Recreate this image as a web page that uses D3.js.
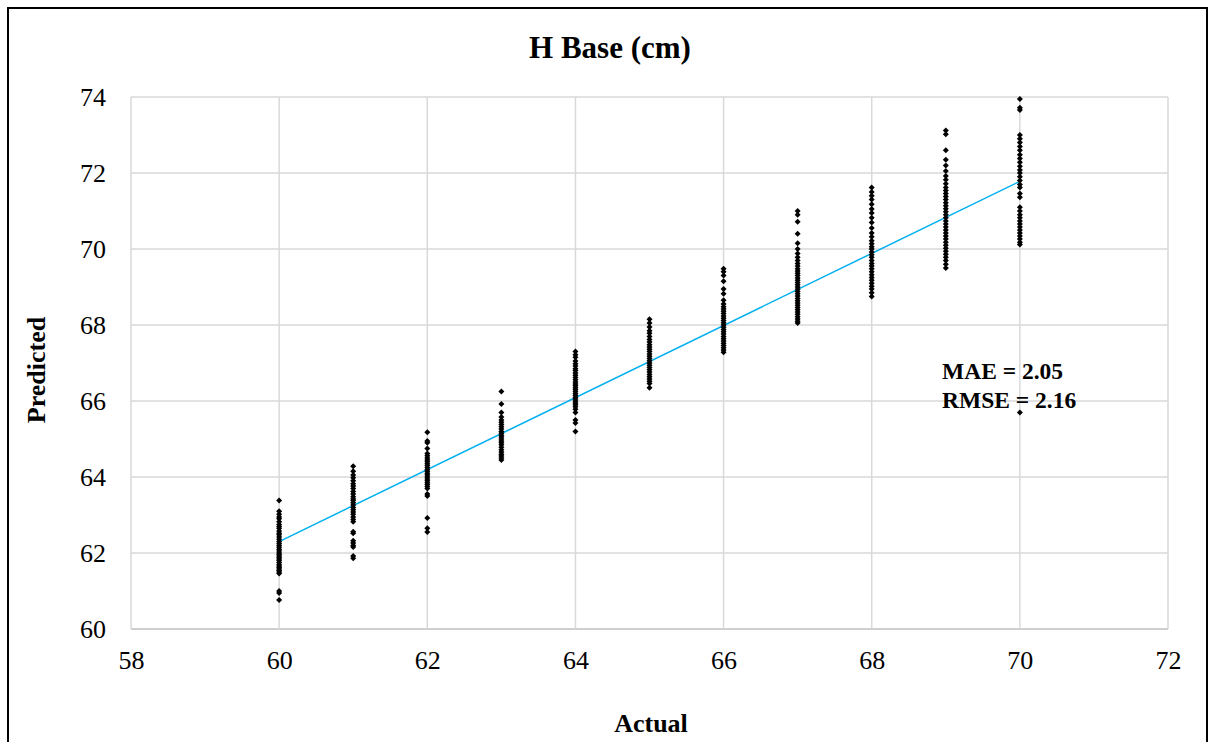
<!DOCTYPE html>
<html>
<head>
<meta charset="utf-8">
<script src="https://cdn.jsdelivr.net/npm/d3@7"></script>
<style>
  html, body { margin: 0; padding: 0; background: #ffffff; }
  svg { display: block; }
  text { font-family: "Liberation Serif", "Times New Roman", serif; fill: #000; }
</style>
</head>
<body>
<svg id="chart" width="1214" height="742"></svg>
<script>
// Actual height values (x) and the predicted values observed at each one
const actualValues = [60, 61, 62, 63, 64, 65, 66, 67, 68, 69, 70];

const predicted60 = [63.38, 63.1, 63.02, 62.95, 62.9, 62.82, 62.75, 62.7, 62.65, 62.58, 62.52, 62.48, 62.42, 62.36, 62.3, 62.25, 62.2, 62.15, 62.1, 62.05, 62.0, 61.96, 61.92, 61.88, 61.84, 61.8, 61.75, 61.7, 61.66, 61.62, 61.58, 61.54, 61.5, 61.46, 61.0, 60.95, 60.76];
const predicted61 = [64.28, 64.15, 64.05, 63.98, 63.9, 63.82, 63.76, 63.7, 63.62, 63.55, 63.48, 63.42, 63.38, 63.32, 63.26, 63.2, 63.14, 63.08, 63.02, 62.95, 62.88, 62.82, 62.56, 62.52, 62.32, 62.26, 62.2, 62.16, 61.92, 61.86];
const predicted62 = [65.18, 64.95, 64.9, 64.75, 64.62, 64.56, 64.5, 64.45, 64.4, 64.35, 64.3, 64.25, 64.2, 64.15, 64.1, 64.05, 64.0, 63.95, 63.9, 63.85, 63.8, 63.75, 63.7, 63.55, 63.5, 62.92, 62.65, 62.55];
const predicted63 = [66.25, 65.92, 65.7, 65.58, 65.5, 65.44, 65.38, 65.32, 65.26, 65.2, 65.15, 65.1, 65.05, 65.0, 64.95, 64.9, 64.85, 64.78, 64.72, 64.66, 64.6, 64.55, 64.5, 64.45];
const predicted64 = [67.3, 67.22, 67.15, 67.05, 66.98, 66.92, 66.85, 66.8, 66.74, 66.68, 66.62, 66.56, 66.5, 66.45, 66.4, 66.35, 66.3, 66.25, 66.2, 66.15, 66.1, 66.05, 66.0, 65.95, 65.9, 65.85, 65.78, 65.7, 65.5, 65.42, 65.2];
const predicted65 = [68.15, 68.05, 67.95, 67.85, 67.78, 67.7, 67.62, 67.55, 67.48, 67.42, 67.36, 67.3, 67.24, 67.18, 67.12, 67.06, 67.0, 66.94, 66.88, 66.82, 66.76, 66.7, 66.64, 66.58, 66.52, 66.46, 66.35];
const predicted66 = [69.48, 69.4, 69.3, 69.15, 68.95, 68.82, 68.65, 68.55, 68.48, 68.42, 68.36, 68.3, 68.24, 68.18, 68.12, 68.06, 68.0, 67.94, 67.88, 67.82, 67.76, 67.7, 67.64, 67.58, 67.52, 67.46, 67.4, 67.34, 67.28];
const predicted67 = [71.0, 70.9, 70.72, 70.4, 70.15, 70.0, 69.88, 69.78, 69.7, 69.62, 69.55, 69.48, 69.42, 69.36, 69.3, 69.24, 69.18, 69.12, 69.06, 69.0, 68.94, 68.88, 68.82, 68.76, 68.7, 68.64, 68.58, 68.52, 68.46, 68.4, 68.34, 68.28, 68.22, 68.16, 68.1, 68.05];
const predicted68 = [71.62, 71.5, 71.4, 71.3, 71.18, 71.05, 70.95, 70.82, 70.7, 70.55, 70.42, 70.32, 70.22, 70.14, 70.06, 70.0, 69.92, 69.85, 69.78, 69.7, 69.62, 69.55, 69.48, 69.4, 69.32, 69.25, 69.18, 69.1, 69.02, 68.95, 68.85, 68.75];
const predicted69 = [73.12, 73.02, 72.6, 72.35, 72.2, 72.05, 71.92, 71.82, 71.72, 71.62, 71.54, 71.46, 71.38, 71.3, 71.22, 71.14, 71.06, 70.98, 70.9, 70.82, 70.74, 70.66, 70.58, 70.5, 70.42, 70.34, 70.26, 70.18, 70.1, 70.02, 69.94, 69.86, 69.78, 69.7, 69.6, 69.5];
const predicted70 = [73.95, 73.72, 73.66, 73.0, 72.9, 72.8, 72.7, 72.6, 72.48, 72.38, 72.28, 72.18, 72.08, 72.0, 71.9, 71.8, 71.7, 71.62, 71.46, 71.36, 71.1, 71.0, 70.9, 70.82, 70.74, 70.66, 70.58, 70.5, 70.42, 70.34, 70.26, 70.18, 70.12, 65.7];

const predictedByActual = [predicted60, predicted61, predicted62, predicted63, predicted64, predicted65, predicted66, predicted67, predicted68, predicted69, predicted70];

// Linear trend line end points
const trendX = [60, 70];
const trendY = [62.3, 71.78];

// Axis ticks and annotation text
const xTicks = [58, 60, 62, 64, 66, 68, 70, 72];
const yTicks = [60, 62, 64, 66, 68, 70, 72, 74];
const chartTitle = "H Base (cm)";
const xTitle = "Actual";
const yTitle = "Predicted";
const errorLines = ["MAE = 2.05", "RMSE = 2.16"];

// Flatten into point records
const points = [];
actualValues.forEach((a, i) => {
  predictedByActual[i].forEach(p => points.push({ actual: a, predicted: p }));
});

const svg = d3.select("#chart");
const plot = { left: 131, right: 1168, top: 97, bottom: 629 };

const x = d3.scaleLinear().domain([58, 72]).range([plot.left, plot.right]);
const y = d3.scaleLinear().domain([60, 74]).range([plot.bottom, plot.top]);

// Outer frame
svg.append("rect")
  .attr("x", 8).attr("y", 8)
  .attr("width", 1199).attr("height", 800)
  .attr("fill", "none")
  .attr("stroke", "#000")
  .attr("stroke-width", 2);

// Gridlines
const grid = svg.append("g").attr("class", "grid");
grid.selectAll("line.h")
  .data(yTicks)
  .join("line")
  .attr("class", "h")
  .attr("x1", plot.left).attr("x2", plot.right)
  .attr("y1", d => y(d)).attr("y2", d => y(d))
  .attr("stroke", d => d === 60 ? "#bfbfbf" : "#d9d9d9")
  .attr("stroke-width", 1.5);
grid.selectAll("line.v")
  .data(xTicks)
  .join("line")
  .attr("class", "v")
  .attr("x1", d => x(d)).attr("x2", d => x(d))
  .attr("y1", plot.top).attr("y2", plot.bottom)
  .attr("stroke", "#d9d9d9")
  .attr("stroke-width", 1.5);

// Axes (labels only, lines are drawn by the grid)
const xAxis = d3.axisBottom(x).tickValues(xTicks).tickSize(0).tickPadding(22).tickFormat(d3.format("d"));
const yAxis = d3.axisLeft(y).tickValues(yTicks).tickSize(0).tickPadding(25).tickFormat(d3.format("d"));

const gx = svg.append("g").attr("transform", `translate(0,${plot.bottom})`).call(xAxis);
const gy = svg.append("g").attr("transform", `translate(${plot.left},0)`).call(yAxis);
[gx, gy].forEach(g => {
  g.select(".domain").remove();
  g.selectAll("text")
    .style("font-family", "'Liberation Serif', 'Times New Roman', serif")
    .style("font-size", "26px")
    .attr("fill", "#000");
});

// Trend line
svg.append("line")
  .attr("x1", x(trendX[0])).attr("y1", y(trendY[0]))
  .attr("x2", x(trendX[1])).attr("y2", y(trendY[1]))
  .attr("stroke", "#00b0f0")
  .attr("stroke-width", 1.5);

// Diamond markers
const diamond = d3.symbol().type(d3.symbolSquare).size(18);
svg.append("g")
  .selectAll("path")
  .data(points)
  .join("path")
  .attr("d", diamond)
  .attr("transform", d => `translate(${x(d.actual)},${y(d.predicted)}) rotate(45)`)
  .attr("fill", "#000");

// Titles
svg.append("text")
  .attr("x", 610).attr("y", 58)
  .attr("text-anchor", "middle")
  .style("font-size", "31px").style("font-weight", "bold")
  .text(chartTitle);

svg.append("text")
  .attr("x", 651).attr("y", 732)
  .attr("text-anchor", "middle")
  .style("font-size", "26px").style("font-weight", "bold")
  .text(xTitle);

svg.append("text")
  .attr("transform", "translate(45,370) rotate(-90)")
  .attr("text-anchor", "middle")
  .style("font-size", "26px").style("font-weight", "bold")
  .text(yTitle);

// Error metrics
svg.append("g")
  .selectAll("text")
  .data(errorLines)
  .join("text")
  .attr("x", 942)
  .attr("y", (d, i) => 379 + i * 29)
  .style("font-size", "23.5px").style("font-weight", "bold")
  .text(d => d);
</script>
</body>
</html>
